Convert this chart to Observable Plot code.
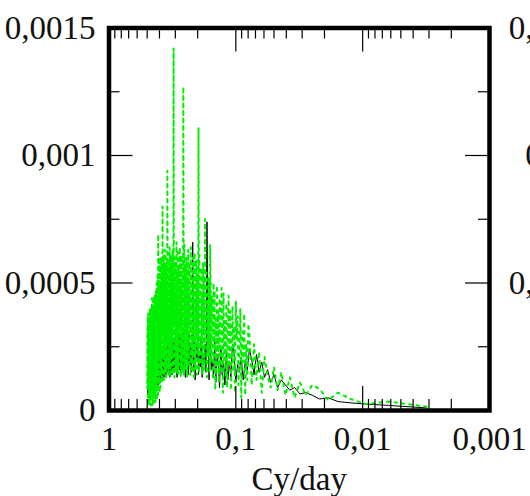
<!DOCTYPE html>
<html><head><meta charset="utf-8">
<script src="https://cdn.jsdelivr.net/npm/d3@7"></script>
<script src="https://cdn.jsdelivr.net/npm/@observablehq/plot@0.6"></script>
<style>
html,body{margin:0;padding:0;background:#fff;overflow:hidden;}
#chart svg{overflow:hidden !important;display:block;}
</style></head><body><div id="chart"></div>
<script>
// Green (dotted) spectrum: frequencies (cycles/day) and power
const greenFrequency = [
0.00313,0.00625,0.00938,0.0125,0.01563,0.01875,0.02188,0.025,0.02813,0.03125,
0.03438,0.0375,0.04063,0.04375,0.04688,0.05,0.05313,0.05625,0.05938,0.0625,
0.06563,0.06875,0.07188,0.075,0.07813,
0.07969,0.08125,0.08281,0.08438,0.08594,0.0875,0.08906,0.09063,0.09219,0.09375,
0.09531,0.09688,0.09844,0.1,0.10156,0.10313,0.10469,0.10625,0.10781,0.10938,
0.11094,0.1125,0.11406,0.11563,0.11719,0.11875,0.12031,0.12188,0.12344,0.125,
0.12656,0.12813,0.12969,0.13125,0.13281,0.13438,0.13594,0.1375,0.13906,0.14063,
0.14219,0.14375,0.14531,0.14688,0.14844,0.15,0.15156,0.15313,0.15469,0.15625,
0.15781,0.15938,0.16094,0.1625,0.16406,0.16563,0.16719,0.16875,0.17031,0.17188,
0.17344,0.175,0.17656,0.17813,0.17969,0.18125,0.18281,0.18438,0.18594,0.1875,
0.18906,0.19063,0.19219,0.19375,0.19531,0.19688,0.19844,0.2,0.20156,0.20313,
0.20469,0.20625,0.20781,0.20938,0.21094,0.2125,0.21406,0.21563,0.21719,0.21875,
0.22031,0.22188,0.22344,0.225,0.22656,0.22813,0.22969,0.23125,0.23281,0.23438,
0.23594,0.2375,0.23906,0.24063,0.24219,0.24375,0.24531,0.24688,0.24844,0.25,
0.25156,0.25313,0.25469,0.25625,0.25781,0.25938,0.26094,0.2625,0.26406,0.26563,
0.26719,0.26875,0.27031,0.27188,0.27344,0.275,0.27656,0.27813,0.27969,0.28125,
0.28281,0.28438,0.28594,0.2875,0.28906,0.29063,0.29219,0.29375,0.29531,0.29688,
0.29844,0.3,0.30156,0.30313,0.30469,0.30625,0.30781,0.30938,0.31094,0.3125,
0.31406,0.31563,0.31719,0.31875,0.32031,0.32188,0.32344,0.325,0.32656,0.32813,
0.32969,0.33125,0.33281,0.33438,0.33594,0.3375,0.33906,0.34063,0.34219,0.34375,
0.34531,0.34688,0.34844,0.35,0.35156,0.35313,0.35469,0.35625,0.35781,0.35938,
0.36094,0.3625,0.36406,0.36563,0.36719,0.36875,0.37031,0.37188,0.37344,0.375,
0.37656,0.37813,0.37969,0.38125,0.38281,0.38438,0.38594,0.3875,0.38906,0.39063,
0.39219,0.39375,0.39531,0.39688,0.39844,0.4,0.40156,0.40313,0.40469,0.40625,
0.40781,0.40938,0.41094,0.4125,0.41406,0.41563,0.41719,0.41875,0.42031,0.42188,
0.42344,0.425,0.42656,0.42813,0.42969,0.43125,0.43281,0.43438,0.43594,0.4375,
0.43906,0.44063,0.44219,0.44375,0.44531,0.44688,0.44844,0.45,0.45156,0.45313,
0.45469,0.45625,0.45781,0.45938,0.46094,0.4625,0.46406,0.46563,0.46719,0.46875,
0.47031,0.47188,0.47344,0.475,0.47656,0.47813,0.47969,0.48125,0.48281,0.48438,
0.48594,0.4875,0.48906,0.49063,0.49219,0.49375,0.49531,0.49688,0.49844,0.5];

const greenPower = [
0.15e-4,0.35e-4,0.25e-4,0.45e-4,0.7e-4,0.4e-4,0.85e-4,1.0e-4,0.6e-4,1.1e-4,
0.5e-4,1.3e-4,0.6e-4,1.5e-4,0.8e-4,1.7e-4,0.9e-4,1.4e-4,2.1e-4,0.7e-4,
2.3e-4,1.2e-4,2.6e-4,1.0e-4,3.0e-4,
3.4e-4,1.2e-4,2.6e-4,0.6e-4,3.8e-4,1.9e-4,3.1e-4,0.5e-4,4.0e-4,2.2e-4,
1.0e-4,3.7e-4,2.8e-4,4.3e-4,0.7e-4,3.3e-4,1.5e-4,4.1e-4,2.4e-4,0.8e-4,
3.9e-4,1.7e-4,4.5e-4,2.9e-4,0.9e-4,4.2e-4,1.3e-4,3.5e-4,2.0e-4,4.6e-4,
0.7e-4,3.2e-4,4.8e-4,1.6e-4,2.7e-4,4.4e-4,1.1e-4,3.9e-4,2.3e-4,4.9e-4,
1.4e-4,3.6e-4,0.8e-4,4.7e-4,2.5e-4,5.0e-4,1.2e-4,3.4e-4,4.5e-4,1.9e-4,
4.8e-4,6.5e-4,1.5e-4,3.8e-4,5.2e-4,2.1e-4,4.3e-4,1.3e-4,5.4e-4,2.9e-4,
4.0e-4,7.5e-4,1.6e-4,5.1e-4,3.0e-4,5.8e-4,1.4e-4,4.6e-4,2.6e-4,5.6e-4,
1.8e-4,4.9e-4,3.3e-4,6.1e-4,1.5e-4,11.1e-4,2.4e-4,5.3e-4,3.7e-4,1.4e-4,
5.9e-4,2.8e-4,4.4e-4,1.6e-4,6.2e-4,3.5e-4,1.3e-4,5.0e-4,2.2e-4,6.0e-4,
3.9e-4,1.5e-4,5.5e-4,2.7e-4,6.4e-4,1.4e-4,4.6e-4,3.2e-4,5.8e-4,1.7e-4,
4.2e-4,6.3e-4,2.0e-4,5.1e-4,1.3e-4,3.8e-4,6.0e-4,2.5e-4,4.8e-4,1.6e-4,
5.7e-4,3.0e-4,6.5e-4,1.4e-4,4.5e-4,12.7e-4,2.3e-4,5.4e-4,3.6e-4,1.5e-4,
6.1e-4,2.6e-4,4.9e-4,1.3e-4,5.9e-4,3.3e-4,6.4e-4,1.8e-4,4.3e-4,2.9e-4,
5.6e-4,1.4e-4,6.2e-4,3.8e-4,2.1e-4,5.3e-4,1.5e-4,6.6e-4,2.7e-4,4.7e-4,
1.6e-4,5.8e-4,3.1e-4,6.0e-4,1.3e-4,4.4e-4,2.5e-4,14.2e-4,3.4e-4,5.5e-4,
1.4e-4,6.3e-4,2.2e-4,4.9e-4,3.7e-4,1.5e-4,5.7e-4,2.8e-4,6.1e-4,1.3e-4,
4.5e-4,3.0e-4,6.4e-4,1.7e-4,5.2e-4,2.4e-4,5.9e-4,1.4e-4,4.1e-4,3.5e-4,
6.2e-4,9.4e-4,1.6e-4,5.0e-4,2.6e-4,6.0e-4,1.3e-4,4.7e-4,3.2e-4,5.6e-4,
1.5e-4,6.3e-4,2.3e-4,4.4e-4,5.8e-4,1.2e-4,3.9e-4,6.1e-4,2.0e-4,5.2e-4,
1.4e-4,8.0e-4,3.1e-4,5.5e-4,1.1e-4,4.6e-4,2.7e-4,6.0e-4,1.6e-4,4.9e-4,
0.9e-4,5.7e-4,2.4e-4,4.2e-4,0.7e-4,6.0e-4,3.3e-4,1.2e-4,5.1e-4,2.0e-4,
4.5e-4,6.9e-4,0.6e-4,3.8e-4,5.3e-4,1.5e-4,4.0e-4,0.4e-4,5.0e-4,2.6e-4,
3.5e-4,0.8e-4,4.7e-4,1.9e-4,0.3e-4,4.4e-4,3.0e-4,1.0e-4,4.6e-4,0.5e-4,
3.9e-4,2.2e-4,4.5e-4,0.3e-4,3.4e-4,1.4e-4,4.3e-4,0.6e-4,2.8e-4,4.1e-4,
0.2e-4,3.6e-4,1.7e-4,4.4e-4,0.5e-4,3.1e-4,0.9e-4,4.0e-4,2.3e-4,0.2e-4,
3.8e-4,1.2e-4,3.3e-4,0.4e-4,4.0e-4,2.0e-4,0.3e-4,3.7e-4,1.0e-4,2.9e-4,
0.2e-4,3.5e-4,1.5e-4,3.8e-4,0.3e-4,2.6e-4,3.7e-4,0.9e-4,3.2e-4,1.0e-4];

// Black (solid) spectrum
const blackFrequency = [
0.00313,0.00625,0.00938,0.0125,0.01563,0.01875,0.02188,0.025,0.02813,0.03125,
0.03438,0.0375,0.04063,0.04375,0.04688,0.05,0.05313,0.05625,0.05938,0.0625,
0.06563,0.06875,0.07188,0.075,0.07813,0.08125,0.08438,0.0875,0.09063,0.09375,
0.09688,0.1,0.10313,0.10625,0.10938,0.1125,0.11563,0.11875,0.12188,0.125,
0.12813,0.13125,0.13438,0.1375,0.14063,0.14375,0.14688,0.15,0.15313,0.15625,
0.15938,0.1625,0.16563,0.16875,0.17188,0.175,0.17813,0.18125,0.18438,0.1875,
0.19063,0.19375,0.19688,0.2,0.20313,0.20625,0.20938,0.2125,0.21563,0.21875,
0.22188,0.225,0.22813,0.23125,0.23438,0.2375,0.24063,0.24375,0.24688,0.25,
0.25313,0.25625,0.25938,0.2625,0.26563,0.26875,0.27188,0.275,0.27813,0.28125,
0.28438,0.2875,0.29063,0.29375,0.29688,0.3,0.30313,0.30625,0.30938,0.3125,
0.31563,0.31875,0.32188,0.325,0.32813,0.33125,0.33438,0.3375,0.34063,0.34375,
0.34688,0.35,0.35313,0.35625,0.35938,0.3625,0.36563,0.36875,0.37188,0.375,
0.37813,0.38125,0.38438,0.3875,0.39063,0.39375,0.39688,0.4,0.40313,0.40625,
0.40938,0.4125,0.41563,0.41875,0.42188,0.425,0.42813,0.43125,0.43438,0.4375,
0.44063,0.44375,0.44688,0.45,0.45313,0.45625,0.45938,0.4625,0.46563,0.46875,
0.47188,0.475,0.47813,0.48125,0.48438,0.4875,0.49063,0.49375,0.49688,0.5];

const blackPower = [
0.1e-4,0.2e-4,0.25e-4,0.3e-4,0.35e-4,0.5e-4,0.45e-4,0.6e-4,0.7e-4,0.65e-4,
0.9e-4,0.8e-4,1.0e-4,1.2e-4,0.9e-4,1.4e-4,1.1e-4,1.6e-4,1.3e-4,1.9e-4,
1.5e-4,2.2e-4,1.4e-4,2.0e-4,2.4e-4,1.6e-4,1.9e-4,1.2e-4,2.1e-4,1.5e-4,
1.8e-4,1.1e-4,2.2e-4,2.6e-4,1.3e-4,1.9e-4,1.2e-4,2.3e-4,1.0e-4,2.0e-4,
1.4e-4,2.5e-4,0.9e-4,1.8e-4,2.2e-4,1.1e-4,2.7e-4,1.3e-4,2.0e-4,1.6e-4,
2.9e-4,1.2e-4,2.4e-4,7.4e-4,1.5e-4,2.6e-4,1.8e-4,2.1e-4,1.3e-4,2.8e-4,
1.7e-4,2.3e-4,1.4e-4,3.0e-4,1.9e-4,2.5e-4,1.2e-4,2.7e-4,1.6e-4,6.6e-4,
2.0e-4,1.5e-4,2.6e-4,1.8e-4,3.1e-4,1.4e-4,2.2e-4,1.9e-4,2.8e-4,1.3e-4,
2.4e-4,1.7e-4,3.2e-4,1.5e-4,2.6e-4,2.0e-4,1.4e-4,2.9e-4,1.6e-4,2.3e-4,
1.8e-4,2.7e-4,1.3e-4,2.5e-4,1.9e-4,3.0e-4,1.5e-4,2.2e-4,2.8e-4,1.6e-4,
2.4e-4,1.4e-4,2.6e-4,1.8e-4,2.1e-4,1.3e-4,2.7e-4,1.7e-4,2.3e-4,1.5e-4,
2.9e-4,1.6e-4,2.2e-4,1.4e-4,2.5e-4,1.8e-4,2.0e-4,1.3e-4,2.6e-4,1.5e-4,
2.2e-4,1.2e-4,2.4e-4,1.6e-4,1.9e-4,1.1e-4,2.3e-4,1.4e-4,1.8e-4,1.0e-4,
2.1e-4,1.3e-4,1.7e-4,0.9e-4,2.0e-4,1.2e-4,1.6e-4,0.8e-4,1.9e-4,1.1e-4,
1.5e-4,0.7e-4,1.7e-4,1.0e-4,1.4e-4,0.6e-4,1.5e-4,0.9e-4,1.2e-4,0.5e-4,
1.3e-4,0.8e-4,1.1e-4,0.4e-4,1.0e-4,0.7e-4,0.9e-4,0.5e-4,0.8e-4,0.9e-4];

// Axes
const xTickMajor = [1, 0.1, 0.01, 0.001];
const xTickLabels = ["1", "0,1", "0,01", "0,001"];
const xTickMinor = [0.9,0.8,0.7,0.6,0.5,0.4,0.3,0.2,
  0.09,0.08,0.07,0.06,0.05,0.04,0.03,0.02,
  0.009,0.008,0.007,0.006,0.005,0.004,0.003,0.002];
const yTickMajor = [0, 0.0005, 0.001, 0.0015];
const yTickLabels = ["0", "0,0005", "0,001", "0,0015"];
const yTickMinor = [0.00025, 0.00075, 0.00125];
const xLabel = "Cy/day";
// labels of the neighbouring panel, cut by the right edge
const neighbourYTicks = [0.0005, 0.001, 0.0015];
const neighbourYTickLabels = ["0,0005", "0,001", "0,0015"];

const W = 530, H = 496;
const mL = 108.5, mR = 41, mT = 27.5, mB = 86;
const innerW = W - mL - mR, innerH = H - mT - mB;
const majorLen = 24, minorLen = 11;
const font = "Liberation Serif, Times New Roman, serif";
const fs = 33;

const greenData = greenFrequency.map((f, i) => ({f, p: greenPower[i]}));
const blackData = blackFrequency.map((f, i) => ({f, p: blackPower[i]}));

const chart = Plot.plot({
  width: W, height: H,
  marginLeft: mL, marginRight: mR, marginTop: mT, marginBottom: mB,
  style: {fontFamily: font, fontSize: fs + "px", background: "#fff", overflow: "hidden"},
  x: {type: "log", domain: [1, 0.001], axis: null},
  y: {domain: [0, 0.0015], axis: null},
  marks: [
    Plot.line(blackData, {x: "f", y: "p", stroke: "#000", strokeWidth: 1}),
    Plot.line(greenData, {x: "f", y: "p", stroke: "#00ee00", strokeWidth: 2, strokeDasharray: "2.5,5"}),
    // top ticks
    Plot.ruleX(xTickMajor, {x: d => d, insetBottom: innerH - majorLen, stroke: "#000", strokeWidth: 1.2}),
    Plot.ruleX(xTickMinor, {x: d => d, insetBottom: innerH - minorLen, stroke: "#000", strokeWidth: 1.2}),
    // bottom ticks
    Plot.ruleX(xTickMajor, {x: d => d, insetTop: innerH - majorLen, stroke: "#000", strokeWidth: 1.2}),
    Plot.ruleX(xTickMinor, {x: d => d, insetTop: innerH - minorLen, stroke: "#000", strokeWidth: 1.2}),
    // left ticks
    Plot.ruleY(yTickMajor, {y: d => d, insetRight: innerW - majorLen, stroke: "#000", strokeWidth: 1.2}),
    Plot.ruleY(yTickMinor, {y: d => d, insetRight: innerW - minorLen, stroke: "#000", strokeWidth: 1.2}),
    // right ticks
    Plot.ruleY(yTickMajor, {y: d => d, insetLeft: innerW - majorLen, stroke: "#000", strokeWidth: 1.2}),
    Plot.ruleY(yTickMinor, {y: d => d, insetLeft: innerW - minorLen, stroke: "#000", strokeWidth: 1.2}),
    Plot.frame({stroke: "#000", strokeWidth: 4.5}),
    // tick labels
    Plot.text(xTickMajor, {x: d => d, text: (d, i) => xTickLabels[i], frameAnchor: "bottom", lineAnchor: "bottom", dy: 39, fontSize: fs, fill: "#111"}),
    Plot.text(yTickMajor, {y: d => d, text: (d, i) => yTickLabels[i], frameAnchor: "left", textAnchor: "end", lineAnchor: "middle", dx: -13.5, fontSize: fs, fill: "#111"}),
    Plot.text(neighbourYTicks, {y: d => d, text: (d, i) => neighbourYTickLabels[i], frameAnchor: "right", textAnchor: "end", lineAnchor: "middle", dx: 110, fontSize: fs, fill: "#111"}),
    // axis title
    Plot.text([xLabel], {text: d => d, frameAnchor: "bottom", lineAnchor: "bottom", dy: 79, fontSize: fs, fill: "#111"})
  ]
});
document.getElementById("chart").appendChild(chart);
</script>
</body></html>
